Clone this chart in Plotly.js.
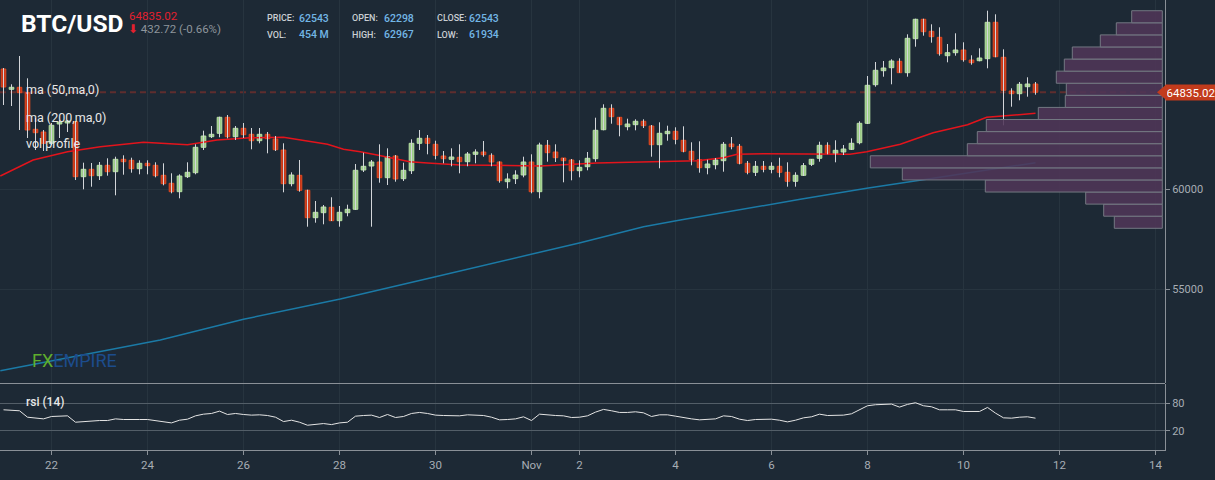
<!DOCTYPE html>
<html><head><meta charset="utf-8">
<script src="https://cdn.plot.ly/plotly-3.0.1.min.js"></script>
<style>html,body{margin:0;padding:0;background:#1d2935;}#chart{width:1215px;height:480px;}</style>
</head><body><div id="chart"></div>
<script>
// ---------- data ----------
const startUTC = Date.UTC(2021, 9, 21, 0, 0, 0); // first 4h candle
const candleMs = 4 * 3600 * 1000;

const opens = [66000,64985,65085,64815,62985,62850,62285,63250,63300,63365,
60615,60985,60665,61185,60865,61485,61435,61015,61285,61185,
60685,60285,59865,60615,60815,62085,62615,62785,63585,62615,
63035,62735,62415,62735,62500,61950,60265,60685,59935,58565,
58815,59085,58415,58815,58985,60950,61150,61350,60565,61650,
60515,60915,62285,62535,62235,61650,61485,61585,61365,61735,
61850,61685,61350,60365,60515,60700,61350,59865,62185,61850,
61550,61450,60915,61115,61515,62965,64035,63585,63115,63215,
63385,63150,62215,62765,62885,62435,61885,61465,61065,61215,
61415,62250,62135,61285,60835,61135,60985,61135,60835,60385,
60685,61235,61535,62185,61765,61850,61985,62315,63285,65215,
65915,66065,66385,65815,67515,68485,67885,67585,66665,66815,
66950,66450,66415,66515,68335,66585,64900,64765,65115,65250];
const highs = [66050,65235,66650,65535,63550,62950,63300,63450,63450,63400,
61315,61300,61350,61535,61615,61685,61565,61435,61435,61335,
61285,60785,60735,61335,62235,62915,63150,63615,63700,63150,
63300,63050,63050,62850,62650,62285,60835,61450,59965,59400,
59200,59585,59150,59215,61250,61815,61450,62235,62035,61700,
61315,62485,62950,62700,62415,61900,62035,62235,61850,61985,
62400,61785,61385,60785,60935,61615,61735,62315,62450,62235,
61550,61500,61435,61850,63565,64235,64235,63585,63515,63485,
63485,63200,63335,63165,63085,63135,62335,62385,61465,61550,
62350,62600,62250,61400,61400,61400,61335,61565,61335,60835,
61300,61500,62365,62335,62435,62200,62535,63385,65650,66350,
66400,66485,66535,67735,68515,68515,68235,68085,67250,67785,
67335,66685,67035,68915,68735,66985,65035,65350,65585,65350];
const lows = [64200,64150,62950,62550,61950,61900,62200,62550,62850,60450,
59985,60115,60450,60665,59685,60715,60815,60735,60735,60585,
60185,59785,59535,60550,60735,61950,62550,62585,62535,62450,
62550,61985,62285,61785,61900,59835,60135,59865,58115,58315,
58235,58400,58115,58635,58950,60850,58115,60315,60200,60365,
60400,60750,61950,61735,61485,61285,61135,60785,61135,61285,
61615,61135,60315,60035,60250,60585,59785,59535,61365,61350,
60335,60435,60585,60935,61365,62935,63265,62635,62935,62935,
63050,61615,61035,62415,62235,61835,61185,60815,60735,60985,
60865,61985,61235,60735,60650,60835,60785,60585,60115,60115,
60650,61150,61365,61735,61335,61700,61950,62235,63250,65115,
65615,65235,65815,65615,67115,67665,67315,66665,66335,66665,
66365,66215,66385,66035,66585,63185,64115,64435,64615,64715];
const closes = [65100,65085,64815,62950,62815,62285,63185,63350,63400,60615,
60985,60665,61185,60865,61485,61365,61015,61285,61165,60665,
60265,59865,60650,60835,62085,62650,62735,63585,62615,63035,
62715,62415,62735,62515,61965,60265,60700,59935,58565,58835,
59100,58415,58835,58985,60935,61135,61350,60565,61615,60500,
60935,62285,62535,62285,61685,61515,61600,61365,61750,61850,
61715,61350,60415,60500,60700,61350,59865,62200,61815,61565,
61415,60915,61085,61535,62935,64035,63615,63215,63250,63385,
63165,62215,62785,62885,62485,61885,61465,61065,61250,61450,
62235,62115,61285,60835,61135,60985,61135,60835,60385,60685,
61165,61485,62185,61785,61935,62000,62285,63285,65185,65935,
66050,66400,65815,67535,68485,67865,67615,66765,66815,66950,
66465,66315,66550,68335,66615,64935,64765,65235,65250,64835];

const rsiValues = [65.5,64.8,63.4,49.6,48.2,46,51.1,52.5,52.5,38.8,
40.2,40.2,42.4,42.4,46,44.6,43.9,44.6,44.6,42.4,
40.2,37.3,43.1,45.3,52.5,56.1,57.6,62.6,55.4,57.6,
55.4,54,54.7,53.2,49.6,40.2,43.1,38.8,32.3,33.7,
35.9,33.7,37.3,38.8,51.8,53.2,54,48.9,55.4,48.9,
51.1,57.6,59.8,57.6,54,53.2,53.2,52.5,54.7,54.7,
53.2,49.6,43.9,44.6,46,50.4,42.4,56.1,54,53.2,
52.5,48.9,49.6,52.5,60.5,66.3,63.4,59.8,59.8,61.2,
59,51.1,54.7,54.7,51.8,48.2,46,43.9,44.6,46,
52.5,51.1,45.3,42.4,44.6,44.6,45.3,43.1,39.5,43.1,
48.2,50.4,56.1,53.2,53.2,54,56.9,65.5,74.2,76.4,
76.4,77.8,71.3,77.1,80.7,74.2,72,65.5,65.5,65.5,
61.9,61.9,61.9,70.6,58.3,48.2,47.5,49.6,50.4,47.5];

// moving averages, read at positions given in candle units
const ma50Pos = [-0.4,3.7,8.0,12.1,17.5,23.0,26.7,30.8,35.0,38.3,40.5,42.5,44.6,46.7,48.7,50.8,53.0,57.1,61.2,67.1,70.0,74.2,78.3,82.5,86.7,90.0,91.7,95.0,100.8,105.8,107.9,112.1,116.2,120.5,122.9,124.6,129.0];
const ma50Values = [60650,61450,61865,62115,62335,62215,62450,62565,62585,62365,62235,61985,61865,61700,61535,61365,61300,61200,61185,61150,61215,61300,61335,61365,61415,61565,61735,61765,61735,61735,61865,62235,62815,63215,63585,63650,63785];
const ma200Pos = [-0.4,19.6,30.0,39.2,42.1,54.0,65.4,72.1,80.0,84.6,99.6,107.9,116.2,124.6,129.0];
const ma200Values = [50915,52450,53485,54235,54500,55615,56665,57315,58115,58450,59485,60035,60535,61035,61315];

// volume profile (bottom bin to top bin)
const profilePrices = [58337,58942,59546,60150,60755,61359,61963,62568,63172,63777,64381,64985,65590,66194,66799,67403,68008,68612];
const profileVolumes = [48,58.6,76.6,177,260,292,195,185,176,124,97,96,106,98,90,62,46,30.6];
const profileBinSize = 604;

const tickDates = ['2021-10-22','2021-10-24','2021-10-26','2021-10-28','2021-10-30','2021-11-01','2021-11-02','2021-11-04','2021-11-06','2021-11-08','2021-11-10','2021-11-12','2021-11-14'];
const tickLabels = ['22','24','26','28','30','Nov','2','4','6','8','10','12','14'];
const priceTicks = [55000, 60000];
const priceTickLabels = ['55000', '60000'];
const rsiTicks = [20, 80];
const rsiTickLabels = ['20', '80'];

const symbol = 'BTC/USD';
const lastPrice = 64835.02;
const changeText = '432.72 (-0.66%)';
const infoRow1 = [['PRICE:','62543'],['OPEN:','62298'],['CLOSE:','62543']];
const infoRow2 = [['VOL:','454 M'],['HIGH:','62967'],['LOW:','61934']];

// ---------- helpers ----------
function tStr(ms){ return new Date(ms).toISOString().slice(0,19).replace('T',' '); }
function tAt(pos){ return tStr(startUTC + pos * candleMs); }
const times = opens.map((_, i) => tAt(i));

const wickX = [], wickY = [];
times.forEach((t, i) => { wickX.push(t, t, null); wickY.push(lows[i], highs[i], null); });
const bodyBase = opens.map((o, i) => Math.min(o, closes[i]));
const bodyLen = opens.map((o, i) => Math.max(Math.abs(closes[i] - o), 50));
const up = opens.map((o, i) => closes[i] >= o);
const bodyFill = up.map(u => u ? '#9ccc87' : '#c9371a');
const bodyLine = up.map(u => u ? '#b9e2a5' : '#e2491f');

const W = 1165, H = 450;
const px = x => x / W, py = y => (H - y) / H;
const mainDom = [67/450, 1], rsiDom = [0, 66/450];
const yRange = [50300, 69450];
const bg = '#1d2935', grid = '#27343f', axisLine = '#8a9097', tickCol = '#a7adb4';

const traces = [
  { type:'bar', orientation:'h', x: profileVolumes, y: profilePrices, width: profileBinSize,
    xaxis:'x3', yaxis:'y', marker:{color:'rgba(80,53,88,0.88)', line:{color:'#737882', width:1}}, hoverinfo:'skip' },
  { type:'scatter', mode:'lines', x: ma200Pos.map(tAt), y: ma200Values, line:{color:'#1b7aa6', width:1.5}, hoverinfo:'skip' },
  { type:'scatter', mode:'lines', x: ma50Pos.map(tAt), y: ma50Values, line:{color:'#e3141c', width:1.5}, hoverinfo:'skip' },
  { type:'scatter', mode:'lines', x: wickX, y: wickY, line:{color:'#d3d6da', width:1}, connectgaps:false, hoverinfo:'skip' },
  { type:'bar', x: times, y: bodyLen, base: bodyBase, width: candleMs*0.58,
    marker:{color: bodyFill, line:{color: bodyLine, width:1}}, hoverinfo:'skip' },
  { type:'scatter', mode:'lines', x: times, y: rsiValues, xaxis:'x', yaxis:'y2', line:{color:'#e4e4e4', width:1}, hoverinfo:'skip' }
];

const F = 'Roboto, "Open Sans", sans-serif';
const ann = [];
ann.push({xref:'paper', yref:'paper', x:px(19), y:py(23), xanchor:'left', yanchor:'middle', showarrow:false,
  text:'<b>'+symbol+'</b>', font:{family:F, size:24.5, color:'#ffffff'}});
ann.push({xref:'paper', yref:'paper', x:px(127), y:py(15.5), xanchor:'left', yanchor:'middle', showarrow:false,
  text:lastPrice.toFixed(2), font:{family:F, size:11.5, color:'#e3202e'}});
ann.push({xref:'paper', yref:'paper', x:px(126), y:py(29), xanchor:'left', yanchor:'middle', showarrow:false,
  text:'<span style="color:#e3202e">⬇</span> '+changeText, font:{family:F, size:11.5, color:'#8e959c'}});
const colX = [265, 350, 435], valX = [297, 382, 467];
[[infoRow1, 18], [infoRow2, 35]].forEach(([row, yy]) => {
  row.forEach((pair, k) => {
    ann.push({xref:'paper', yref:'paper', x:px(colX[k]), y:py(yy), xanchor:'left', yanchor:'middle', showarrow:false,
      text:pair[0], font:{family:F, size:9, color:'#c9ced3', weight:500}});
    ann.push({xref:'paper', yref:'paper', x:px(valX[k]), y:py(yy), xanchor:'left', yanchor:'middle', showarrow:false,
      text:pair[1], font:{family:F, size:10.5, color:'#72b6e6', weight:500}});
  });
});
[['ma (50,ma,0)', 90], ['ma (200,ma,0)', 117], ['vol profile', 143]].forEach(([t, yy]) => {
  ann.push({xref:'paper', yref:'paper', x:px(24), y:py(yy), xanchor:'left', yanchor:'middle', showarrow:false,
    text:t, font:{family:F, size:12.5, color:'#e8e8e8'}});
});
ann.push({xref:'paper', yref:'paper', x:px(24), y:py(401.5), xanchor:'left', yanchor:'middle', showarrow:false,
  text:'rsi (14)', font:{family:F, size:12, color:'#e8e8e8', weight:500}});
ann.push({xref:'paper', yref:'paper', x:px(30), y:py(360), xanchor:'left', yanchor:'middle', showarrow:false,
  text:'<span style="color:#5fae2d">FX</span><span style="color:#1c4c8c">EMPIRE</span>', font:{family:F, size:18, color:'#1c4c8c'}});
// last price tag
ann.push({xref:'paper', yref:'y', x:px(1165), y:lastPrice, xanchor:'left', yanchor:'middle', showarrow:false,
  text:lastPrice.toFixed(2), font:{family:F, size:11.5, color:'#ffffff'}, bgcolor:'#c23b1c', width:48, height:13, borderpad:1, align:'center'});

const lastYP = mainDom[0] + (lastPrice - yRange[0])/(yRange[1]-yRange[0])*(mainDom[1]-mainDom[0]);
const hh = 7.5 / H;
const shapes = [
  {type:'line', xref:'paper', yref:'y', x0:0, x1:1, y0:lastPrice, y1:lastPrice, line:{color:'rgba(150,50,40,0.55)', width:2, dash:'6px,4px'}, layer:'below'},
  {type:'line', xref:'paper', yref:'paper', x0:0, x1:1, y0:py(383.5), y1:py(383.5), line:{color:axisLine, width:1}},
  {type:'path', xref:'paper', yref:'paper', path:`M ${px(1157)} ${lastYP} L ${px(1166)} ${lastYP+hh} L ${px(1166)} ${lastYP-hh} Z`,
   fillcolor:'#c23b1c', line:{width:0}}
];

const layout = {
  width:1215, height:480, margin:{l:0, r:50, t:0, b:30},
  paper_bgcolor:bg, plot_bgcolor:bg, showlegend:false, barmode:'overlay', hovermode:false,
  font:{family:F, color:tickCol},
  xaxis:{type:'date', range:['2021-10-20 22:15','2021-11-14 04:45'], anchor:'y2', domain:[0,1],
    tickmode:'array', tickvals:tickDates, ticktext:tickLabels, showgrid:true, gridcolor:grid, gridwidth:1,
    showline:true, linecolor:axisLine, ticks:'outside', ticklen:4, tickcolor:axisLine, tickfont:{size:11.5, color:tickCol},
    zeroline:false, fixedrange:true},
  xaxis3:{overlaying:'x', anchor:'y', range:[1162.3, -2.7], visible:false, showgrid:false, zeroline:false, fixedrange:true},
  yaxis:{domain:mainDom, range:yRange, side:'right', tickmode:'array', tickvals:priceTicks, ticktext:priceTickLabels,
    showgrid:true, gridcolor:grid, zeroline:false, showline:true, linecolor:axisLine,
    ticks:'outside', ticklen:4, tickcolor:axisLine, tickfont:{size:11, color:tickCol}, fixedrange:true},
  yaxis2:{domain:rsiDom, range:[-21,121], side:'right', tickmode:'array', tickvals:rsiTicks, ticktext:rsiTickLabels,
    showgrid:true, gridcolor:'#535e68', zeroline:false, showline:true, linecolor:axisLine,
    ticks:'outside', ticklen:4, tickcolor:axisLine, tickfont:{size:11, color:tickCol}, fixedrange:true},
  annotations:ann, shapes:shapes
};

Plotly.newPlot('chart', traces, layout, {displayModeBar:false, staticPlot:true});
</script></body></html>
